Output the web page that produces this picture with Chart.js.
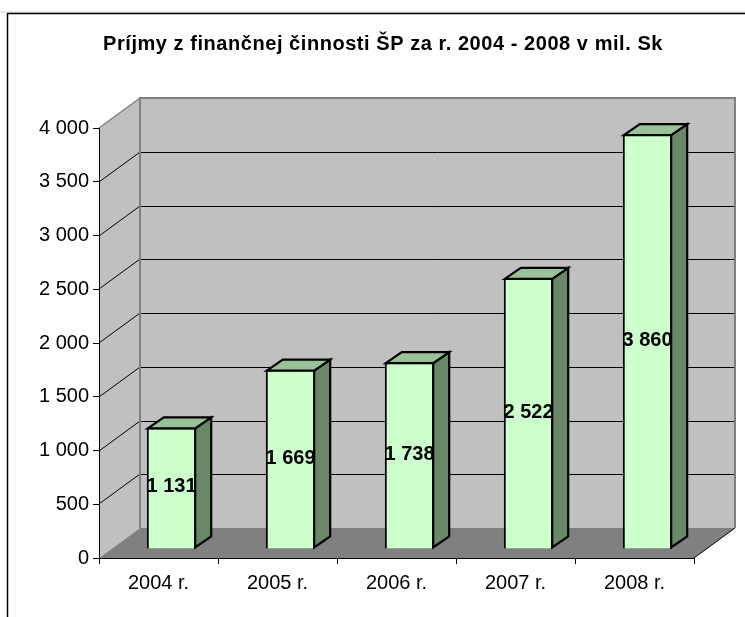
<!DOCTYPE html>
<html>
<head>
<meta charset="utf-8">
<style>html,body{margin:0;padding:0;background:#fff}canvas{display:block}</style>
<script src="https://cdn.jsdelivr.net/npm/chart.js@4"></script>
</head>
<body>
<div style="width:745px;height:617px"><canvas id="c" width="745" height="617"></canvas></div>
<script>
const categories = ['2004 r.', '2005 r.', '2006 r.', '2007 r.', '2008 r.'];
const values = [1131, 1669, 1738, 2522, 3860];
const yTicks = [0, 500, 1000, 1500, 2000, 2500, 3000, 3500, 4000];
const chartTitle = 'Príjmy z finančnej činnosti ŠP za r. 2004 - 2008 v mil. Sk';

const FONT = '"Liberation Sans", Arial, sans-serif';
const WALL_DX = 41, WALL_DY = 30;   // depth of the 3D box
const BAR_DX = 13, BAR_DY = 9;      // how far bars stand in from the front edge
const SIDE_DX = 16, SIDE_DY = 11;   // depth of one bar

const fmt = v => String(v).replace(/\B(?=(\d{3})+$)/g, ' ');

function poly(ctx, pts, fill, stroke, lw) {
  ctx.beginPath();
  pts.forEach((p, i) => i ? ctx.lineTo(p[0], p[1]) : ctx.moveTo(p[0], p[1]));
  ctx.closePath();
  if (fill) { ctx.fillStyle = fill; ctx.fill(); }
  if (stroke) { ctx.strokeStyle = stroke; ctx.lineWidth = lw; ctx.lineJoin = 'miter'; ctx.stroke(); }
}
function line(ctx, x1, y1, x2, y2, color, lw) {
  ctx.beginPath(); ctx.moveTo(x1, y1); ctx.lineTo(x2, y2);
  ctx.strokeStyle = color; ctx.lineWidth = lw; ctx.stroke();
}

const box3d = {
  id: 'box3d',
  beforeDraw(chart) {
    const { ctx, chartArea: a, scales: { y } } = chart;
    // the reference title is loosely tracked
    const tb = chart.titleBlock;
    if (tb && !tb._tracked) {
      const orig = tb.draw;
      tb.draw = function () {
        this.ctx.save();
        this.ctx.letterSpacing = '0.55px';
        orig.call(this);
        this.ctx.restore();
      };
      tb._tracked = true;
    }
    ctx.save();
    // outer frame
    line(ctx, 0, 12, 745, 12, '#d0d0d0', 1);
    line(ctx, 7, 13.5, 745, 13.5, '#000', 1.5);
    line(ctx, 7.5, 13, 7.5, 617, '#000', 1.5);
    const bl = a.left + WALL_DX, br = a.right + WALL_DX, bt = a.top - WALL_DY, bb = a.bottom - WALL_DY;
    // walls and floor
    poly(ctx, [[bl, bt], [br, bt], [br, bb], [bl, bb]], '#c0c0c0');
    poly(ctx, [[a.left, a.top], [bl, bt], [bl, bb], [a.left, a.bottom]], '#c0c0c0');
    poly(ctx, [[a.left, a.bottom], [bl, bb], [br, bb], [a.right, a.bottom]], '#808080');
    // grid lines
    yTicks.forEach(t => {
      if (t === 0 || t === 4000) return;
      const py = Math.round(y.getPixelForValue(t));
      line(ctx, a.left, py, bl, py - WALL_DY, '#000', 1);
      line(ctx, bl, py - WALL_DY + 0.5, br, py - WALL_DY + 0.5, '#000', 1);
    });
    // wall edges
    line(ctx, bl, bt, bl, bb, '#808080', 2);
    line(ctx, bl - 1, bt, br + 1, bt, '#808080', 2);
    line(ctx, br, bt, br, bb, '#808080', 2);
    line(ctx, a.left, a.top, bl, bt, '#808080', 1.5);
    line(ctx, a.right, a.bottom, br, bb, '#000', 1);
    ctx.restore();
  },
  beforeDatasetsDraw(chart) {
    chart.ctx.save();
    chart.ctx.translate(BAR_DX, -BAR_DY);
  },
  afterDatasetsDraw(chart) {
    const { ctx } = chart;
    const meta = chart.getDatasetMeta(0);
    meta.data.forEach(bar => {
      const l = bar.x - bar.width / 2, r = bar.x + bar.width / 2, t = bar.y, b = bar.base;
      const tIn = t + 1, rIn = r - 1, lIn = l + 1;
      poly(ctx, [[rIn, tIn], [rIn + SIDE_DX, tIn - SIDE_DY], [rIn + SIDE_DX, b - 1 - SIDE_DY], [rIn, b - 1]], '#688868', '#000', 2.2);
      poly(ctx, [[lIn, tIn], [lIn + SIDE_DX, tIn - SIDE_DY], [rIn + SIDE_DX, tIn - SIDE_DY], [rIn, tIn]], '#99c299', '#000', 2.2);
    });
    // value labels
    ctx.fillStyle = '#000';
    ctx.font = 'bold 20px ' + FONT;
    ctx.textAlign = 'center';
    ctx.textBaseline = 'middle';
    meta.data.forEach((bar, i) => {
      ctx.fillText(fmt(values[i]), bar.x, (bar.y + bar.base) / 2 - 1);
    });
    ctx.restore();
  }
};

new Chart(document.getElementById('c'), {
  type: 'bar',
  data: {
    labels: categories,
    datasets: [{
      data: values,
      backgroundColor: '#ccffcc',
      borderColor: '#000',
      borderWidth: 2,
      barPercentage: 0.415,
      categoryPercentage: 1,
      clip: false
    }]
  },
  options: {
    responsive: false,
    animation: false,
    layout: { padding: { left: 21, right: 0, top: 0, bottom: 0 } },
    plugins: {
      legend: { display: false },
      tooltip: { enabled: false },
      title: {
        display: true,
        text: chartTitle,
        color: '#000',
        font: { family: FONT, size: 20, weight: 'bold', lineHeight: 1.2 },
        padding: { top: 32, bottom: 72 }
      }
    },
    scales: {
      x: {
        afterFit: s => { s.height = 617 - 558; },
        grid: { drawOnChartArea: false, drawTicks: true, tickLength: 6, color: '#000', offset: true },
        border: { color: '#000', width: 1 },
        ticks: { color: '#000', font: { family: FONT, size: 20 }, padding: 7, maxRotation: 0 }
      },
      y: {
        min: 0,
        max: 4000,
        afterFit: s => { s.width = 78; },
        afterBuildTicks: s => { s.ticks = yTicks.map(v => ({ value: v })); },
        grid: { drawOnChartArea: false, drawTicks: true, tickLength: 6, color: '#000' },
        border: { color: '#000', width: 1 },
        ticks: { color: '#000', font: { family: FONT, size: 20 }, padding: 4, callback: v => fmt(v) }
      },
      rightGap: {
        position: 'right',
        afterFit: s => { s.width = 51; },
        grid: { display: false },
        border: { display: false },
        ticks: { display: false }
      }
    }
  },
  plugins: [box3d]
});
</script>
</body>
</html>
